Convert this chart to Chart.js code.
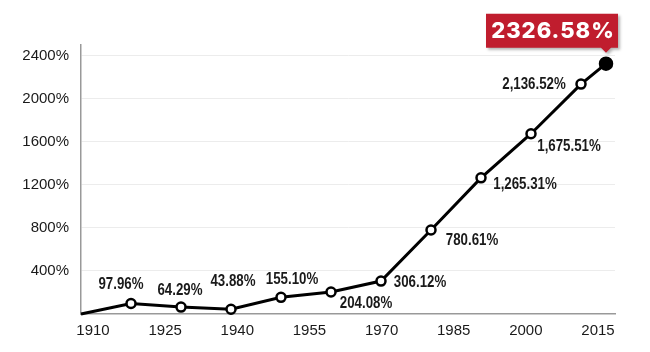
<!DOCTYPE html>
<html>
<head>
<meta charset="utf-8">
<script src="https://cdn.jsdelivr.net/npm/chart.js@4/dist/chart.umd.min.js"></script>
<style>
  html, body { margin: 0; padding: 0; background: #fff; }
  #wrap { width: 650px; height: 352px; position: relative; }
</style>
</head>
<body>
<div id="wrap"><canvas id="grafico"></canvas></div>
<script>
// data
const years = [1910, 1920, 1930, 1940, 1950, 1960, 1970, 1980, 1990, 2000, 2010, 2015];
const growth = [0, 97.96, 64.29, 43.88, 155.10, 204.08, 306.12, 780.61, 1265.31, 1675.51, 2136.52, 2326.58];
const xLabels = [1910, 1925, 1940, 1955, 1970, 1985, 2000, 2015];
const yLabels = [400, 800, 1200, 1600, 2000, 2400];

// where each value label sits relative to its point (dx, dy), null = no label
const labelOffsets = [null, [-10, -19], [-1, -16], [2, -28], [11, -18], [35, 12], [39, 2], [41, 11], [44, 7], [38, 13], [-47, 0], null];

const tickFont = '"Liberation Sans", Arial, sans-serif';

function fmt(v) {
  return v.toLocaleString('en-US', { minimumFractionDigits: 2, maximumFractionDigits: 2 }) + '%';
}

const valueLabels = {
  id: 'valueLabels',
  afterDatasetsDraw(chart) {
    const ctx = chart.ctx;
    const meta = chart.getDatasetMeta(0);
    ctx.save();
    ctx.font = 'bold 16px ' + tickFont;
    ctx.fillStyle = '#1a1a1a';
    ctx.textAlign = 'center';
    ctx.textBaseline = 'middle';
    meta.data.forEach((pt, i) => {
      const off = labelOffsets[i];
      if (!off) return;
      // squeeze the text a bit, the original uses a condensed face
      ctx.save();
      ctx.translate(pt.x + off[0], pt.y + off[1]);
      ctx.scale(0.83, 1);
      ctx.fillText(fmt(growth[i]), 0, 0);
      ctx.restore();
    });

    // red callout on the last point
    const last = meta.data[meta.data.length - 1];
    const px = last.x, py = last.y;
    const left = px - 120, right = px + 12, top = py - 50, bottom = py - 16;
    ctx.shadowColor = 'rgba(0,0,0,0.3)';
    ctx.shadowBlur = 3;
    ctx.shadowOffsetX = 2;
    ctx.shadowOffsetY = 2;
    ctx.fillStyle = '#c01d2e';
    ctx.beginPath();
    ctx.moveTo(left, top);
    ctx.lineTo(right, top);
    ctx.lineTo(right, bottom);
    ctx.lineTo(px + 5, bottom);
    ctx.lineTo(px, py - 11);
    ctx.lineTo(px - 5, bottom);
    ctx.lineTo(left, bottom);
    ctx.closePath();
    ctx.fill();
    ctx.shadowColor = 'transparent';
    ctx.fillStyle = '#ffffff';
    ctx.font = '800 22px Inter, "Open Sans", sans-serif';
    ctx.letterSpacing = '1px';
    ctx.fillText(growth[growth.length - 1].toFixed(2) + '%', (left + right) / 2 + 1, (top + bottom) / 2 + 1);
    ctx.restore();
  }
};

const ctx = document.getElementById('grafico').getContext('2d');
new Chart(ctx, {
  type: 'line',
  data: {
    datasets: [{
      data: years.map((y, i) => ({ x: y, y: growth[i] })),
      borderColor: '#000',
      borderWidth: 3,
      tension: 0,
      pointRadius: years.map((y, i) => i === 0 ? 0 : (i === years.length - 1 ? 6 : 4.5)),
      pointBackgroundColor: years.map((y, i) => i === years.length - 1 ? '#000' : '#fff'),
      pointBorderColor: '#000',
      pointBorderWidth: 2.5,
      clip: false
    }]
  },
  options: {
    responsive: true,
    maintainAspectRatio: false,
    animation: false,
    layout: { padding: { left: 0, right: 35, top: 45, bottom: 0 } },
    plugins: { legend: { display: false }, tooltip: { enabled: false } },
    scales: {
      x: {
        type: 'linear',
        display: false,
        min: 1910,
        max: 2016.8
      },
      xLab: {
        type: 'linear',
        position: 'bottom',
        min: 1907.5,
        max: 2018.54,
        afterBuildTicks: (axis) => { axis.ticks = xLabels.map(v => ({ value: v })); },
        afterFit: (axis) => { axis.height = 38; },
        grid: { display: false, drawTicks: false },
        border: { display: true, color: '#999', width: 1.5 },
        ticks: {
          color: '#1a1a1a',
          font: { family: tickFont, size: 15 },
          padding: 8,
          maxRotation: 0,
          autoSkip: false,
          callback: (v) => String(v)
        }
      },
      y: {
        min: 0,
        max: 2500,
        afterBuildTicks: (axis) => { axis.ticks = yLabels.map(v => ({ value: v })); },
        afterFit: (axis) => { axis.width = 81; },
        grid: { color: '#ececec', lineWidth: 1, drawTicks: false },
        border: { display: true, color: '#999', width: 1.5 },
        ticks: {
          color: '#1a1a1a',
          font: { family: tickFont, size: 15 },
          padding: 12,
          callback: (v) => v + '%'
        }
      }
    }
  },
  plugins: [valueLabels]
});
</script>
</body>
</html>
